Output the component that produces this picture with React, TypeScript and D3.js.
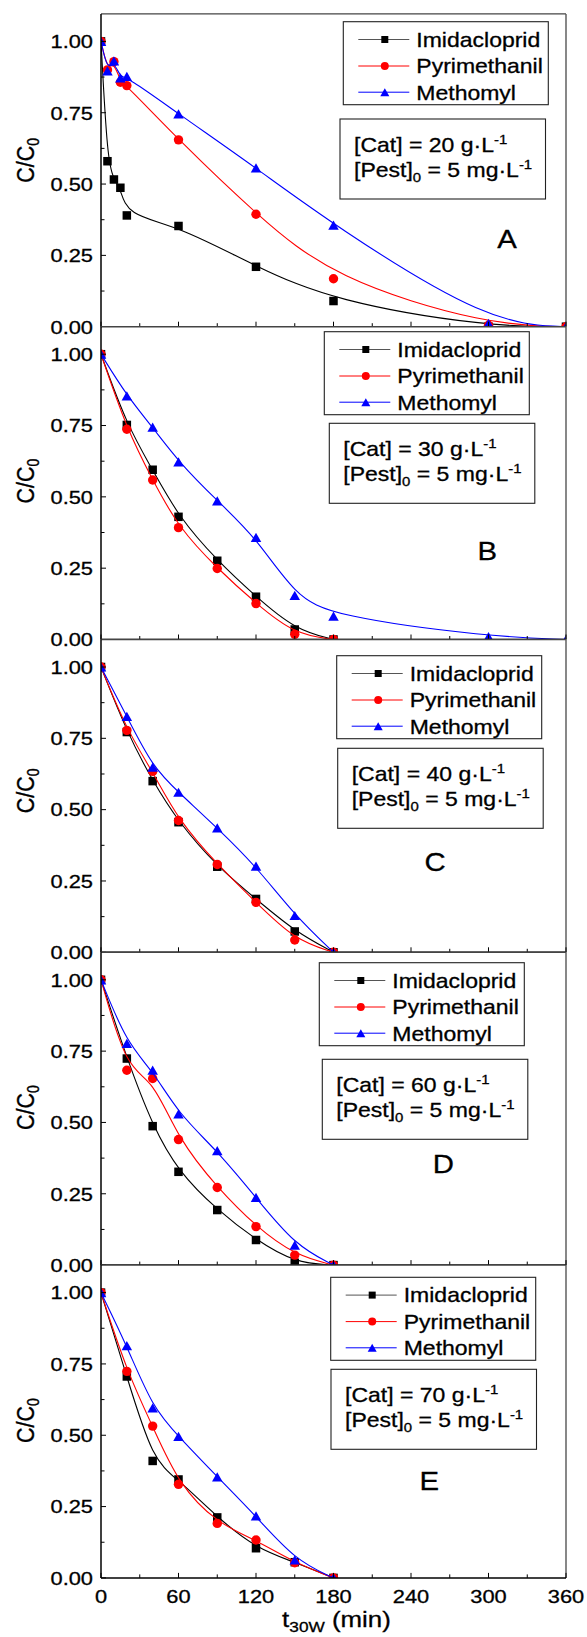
import React from "react";
import * as d3 from "d3";

// ---- data ----
const panelLetters = ["A", "B", "C", "D", "E"];
const catalystDoses = [20, 30, 40, 60, 70];
const seriesNames = ["Imidacloprid", "Pyrimethanil", "Methomyl"];
const seriesColors = ["#000000", "#ff0000", "#0000ff"];
const seriesMarkers = ["square", "circle", "triangle"];

const timesA = [0, 5, 10, 15, 20, 60, 120, 180, 300, 360];
const imidaclopridA = [1.0, 0.58, 0.516, 0.487, 0.39, 0.353, 0.21, 0.09, 0.0, 0.0];
const pyrimethanilA = [1.0, 0.9, 0.929, 0.857, 0.845, 0.655, 0.394, 0.168, 0.005, 0.0];
const methomylA = [1.0, 0.897, 0.932, 0.872, 0.877, 0.746, 0.557, 0.356, 0.012, 0.0];

const times = [0, 20, 40, 60, 90, 120, 150, 180];
const timesLong = [0, 20, 40, 60, 90, 120, 150, 180, 300, 360];

const imidaclopridB = [1.0, 0.752, 0.595, 0.43, 0.276, 0.15, 0.035, 0.0];
const pyrimethanilB = [1.0, 0.737, 0.559, 0.392, 0.249, 0.126, 0.018, 0.0];
const methomylB = [1.0, 0.854, 0.744, 0.623, 0.486, 0.358, 0.155, 0.082, 0.01, 0.0];

const imidaclopridC = [1.0, 0.772, 0.6, 0.456, 0.3, 0.187, 0.073, 0.0];
const pyrimethanilC = [1.0, 0.778, 0.634, 0.462, 0.308, 0.175, 0.043, 0.0];
const methomylC = [1.0, 0.827, 0.649, 0.561, 0.436, 0.302, 0.129, 0.0];

const imidaclopridD = [1.0, 0.724, 0.487, 0.327, 0.193, 0.088, 0.008, 0.0];
const pyrimethanilD = [1.0, 0.683, 0.654, 0.44, 0.272, 0.135, 0.035, 0.0];
const methomylD = [1.0, 0.777, 0.683, 0.53, 0.401, 0.237, 0.07, 0.0];

const imidaclopridE = [1.0, 0.706, 0.41, 0.345, 0.212, 0.104, 0.055, 0.0];
const pyrimethanilE = [1.0, 0.724, 0.532, 0.328, 0.191, 0.133, 0.053, 0.0];
const methomylE = [1.0, 0.814, 0.596, 0.496, 0.354, 0.217, 0.063, 0.0];

const xTickValues = [0, 60, 120, 180, 240, 300, 360];
const yTickValues = [0, 0.25, 0.5, 0.75, 1.0];

// x/y pairs per panel, in series order
const panelSeries = [
  [[timesA, imidaclopridA], [timesA, pyrimethanilA], [timesA, methomylA]],
  [[times, imidaclopridB], [times, pyrimethanilB], [timesLong, methomylB]],
  [[times, imidaclopridC], [times, pyrimethanilC], [times, methomylC]],
  [[times, imidaclopridD], [times, pyrimethanilD], [times, methomylD]],
  [[times, imidaclopridE], [times, pyrimethanilE], [times, methomylE]],
];

// ---- layout ----
const W = 587;
const H = 1637;
const X0 = 101;
const X1 = 566;
const PANEL_H = 312.8;
const FIRST_BOTTOM = 326.7;
const Y_MAX = 1.0964;
const SX = 1.15; // the original is a bit stretched sideways
const FONT = "'Liberation Sans', Arial, Helvetica, sans-serif";
const TXT = { fontFamily: FONT, stroke: "#000", strokeWidth: 0.3 };

// legend/box/letter placement, offsets from each panel's top
const layouts = [
  { legend: [343.3, 7.8], box: [340, 105.1], letter: [507, 234.1], labelShift: -10 },
  { legend: [324.3, 5], box: [329.3, 96.6], letter: [487.3, 233.3], labelShift: -2 },
  { legend: [336.7, 16.2], box: [337.7, 108.8], letter: [435, 231.5], labelShift: -5 },
  { legend: [319.3, 10.4], box: [322.3, 107], letter: [443.3, 220.4], labelShift: -1 },
  { legend: [330.7, 12.2], box: [331, 104.2], letter: [429.3, 224.9], labelShift: -1 },
];

function Marker({ kind, cx, cy, s, color }: any) {
  if (kind === "square")
    return <rect x={cx - s / 2} y={cy - s / 2} width={s} height={s} fill={color} />;
  if (kind === "circle") return <circle cx={cx} cy={cy} r={s / 2} fill={color} />;
  const h = s * 0.88;
  return (
    <path
      d={`M${cx},${cy - h / 2}L${cx + s / 2},${cy + h / 2}L${cx - s / 2},${cy + h / 2}Z`}
      fill={color}
    />
  );
}

function Panel({ i }: { i: number }) {
  const bottom = FIRST_BOTTOM + i * PANEL_H;
  const top = bottom - PANEL_H;
  const lay = layouts[i];
  const x = d3.scaleLinear().domain([0, 360]).range([X0, X1]);
  const y = d3.scaleLinear().domain([0, Y_MAX]).range([bottom, top]);
  const line = d3
    .line<[number, number]>()
    .x((d) => x(d[0]))
    .y((d) => y(d[1]))
    .curve(d3.curveBasis);

  const xMinor = d3.range(0, 361, 30);
  const yMinor = d3.range(0, 1.01, 0.125);
  const clipId = `clip-${i}`;
  const lx = lay.legend[0];
  const ly = top + lay.legend[1];
  const bx = lay.box[0];
  const by = top + lay.box[1];
  const rows = [17.8, 44.3, 70.5];
  const markerSizes = [8.5, 9.4, 10.5];
  const legendSizes = [7, 8, 9];

  return (
    <g>
      <defs>
        <clipPath id={clipId}>
          <rect x={X0} y={top} width={X1 - X0} height={PANEL_H} />
        </clipPath>
      </defs>
      <rect x={X0} y={top} width={X1 - X0} height={PANEL_H} fill="#fff" />

      <g clipPath={`url(#${clipId})`}>
        {panelSeries[i].map(([ts, vs], k) => {
          const pts: [number, number][] = ts.map((t, j) => [t, vs[j]]);
          return (
            <g key={k}>
              <path d={line(pts) || ""} fill="none" stroke={seriesColors[k]} strokeWidth={1.1} />
              {pts.map((p, j) => (
                <Marker
                  key={j}
                  kind={seriesMarkers[k]}
                  cx={x(p[0])}
                  cy={y(p[1])}
                  s={markerSizes[k]}
                  color={seriesColors[k]}
                />
              ))}
            </g>
          );
        })}
      </g>

      {/* frame */}
      <line x1={X0} x2={X1} y1={top} y2={top} stroke="#444" strokeWidth={1.4} />
      <line x1={X1} x2={X1} y1={top} y2={bottom} stroke="#555" strokeWidth={1.4} />
      <line x1={X0} x2={X1} y1={bottom} y2={bottom} stroke="#000" strokeWidth={1.5} />
      <line x1={X0} x2={X0} y1={top} y2={bottom} stroke="#000" strokeWidth={1.5} />

      {/* x ticks, inward */}
      {xMinor.map((t) => (
        <line
          key={"xt" + t}
          x1={x(t)}
          x2={x(t)}
          y1={bottom}
          y2={bottom - (t % 60 === 0 ? 5 : 3.5)}
          stroke="#000"
          strokeWidth={1}
        />
      ))}
      {/* y ticks, inward */}
      {yMinor.map((v) => (
        <line
          key={"yt" + v}
          x1={X0}
          x2={X0 + (Math.abs((v * 4) % 1) < 1e-6 ? 5 : 3.5)}
          y1={y(v)}
          y2={y(v)}
          stroke="#000"
          strokeWidth={1}
        />
      ))}
      {yTickValues.map((v) => (
        <text
          key={"yl" + v}
          transform={`translate(93,${y(v)}) scale(${SX},1)`}
          textAnchor="end"
          dy="0.36em"
          fontSize={19}
          {...TXT}
        >
          {v.toFixed(2)}
        </text>
      ))}

      {/* y axis title */}
      <text
        transform={`translate(33.5,${(top + bottom) / 2 + lay.labelShift}) scale(${SX},1) rotate(-90)`}
        textAnchor="middle"
        fontSize={21.5}
        {...TXT}
      >
        C/C<tspan fontSize={14} dy={5}>0</tspan>
      </text>

      {/* legend */}
      <rect x={lx} y={ly} width={205} height={83} fill="#fff" stroke="#222" strokeWidth={1.1} />
      {seriesNames.map((name, k) => (
        <g key={name}>
          <line
            x1={lx + 15}
            x2={lx + 66}
            y1={ly + rows[k]}
            y2={ly + rows[k]}
            stroke={k === 0 ? "#555" : seriesColors[k]}
            strokeWidth={1}
          />
          <Marker kind={seriesMarkers[k]} cx={lx + 41.5} cy={ly + rows[k]} s={legendSizes[k]} color={seriesColors[k]} />
          <text
            transform={`translate(${lx + 73},${ly + rows[k] + 7.3}) scale(${SX},1)`}
            fontSize={20}
            {...TXT}
          >
            {name}
          </text>
        </g>
      ))}

      {/* conditions box */}
      <rect x={bx} y={by} width={205.5} height={80} fill="#fff" stroke="#222" strokeWidth={1.1} />
      <text transform={`translate(${bx + 14},${by + 32.7}) scale(${SX},1)`} fontSize={20} {...TXT}>
        [Cat] = {catalystDoses[i]} g·L
        <tspan fontSize={13} dy={-8}>-1</tspan>
      </text>
      <text transform={`translate(${bx + 14},${by + 57.7}) scale(${SX},1)`} fontSize={20} {...TXT}>
        [Pest]<tspan fontSize={13} dy={5}>0</tspan>
        <tspan dy={-5}> = 5 mg·L</tspan>
        <tspan fontSize={13} dy={-8}>-1</tspan>
      </text>

      {/* panel letter */}
      <text
        transform={`translate(${lay.letter[0]},${top + lay.letter[1]}) scale(${SX},1)`}
        textAnchor="middle"
        fontSize={25.5}
        {...TXT}
      >
        {panelLetters[i]}
      </text>

      {/* x tick labels on the last panel only */}
      {i === panelLetters.length - 1 &&
        xTickValues.map((t) => (
          <text
            key={"xl" + t}
            transform={`translate(${x(t)},${bottom + 25}) scale(${SX},1)`}
            textAnchor="middle"
            fontSize={19}
            {...TXT}
          >
            {t}
          </text>
        ))}
    </g>
  );
}

export default function App() {
  const lastBottom = FIRST_BOTTOM + (panelLetters.length - 1) * PANEL_H;
  return (
    <svg
      width={W}
      height={H}
      viewBox={`0 0 ${W} ${H}`}
      style={{ position: "absolute", left: 0, top: 0, background: "#fff" }}
    >
      <rect width={W} height={H} fill="#fff" />
      {panelLetters.map((_, i) => (
        <Panel key={i} i={i} />
      ))}
      <text
        transform={`translate(${(X0 + X1) / 2 + 3},${lastBottom + 49}) scale(${SX},1)`}
        textAnchor="middle"
        fontSize={22.5}
        {...TXT}
      >
        t<tspan fontSize={15} dy={5}>30W</tspan>
        <tspan dy={-5}> (min)</tspan>
      </text>
    </svg>
  );
}
